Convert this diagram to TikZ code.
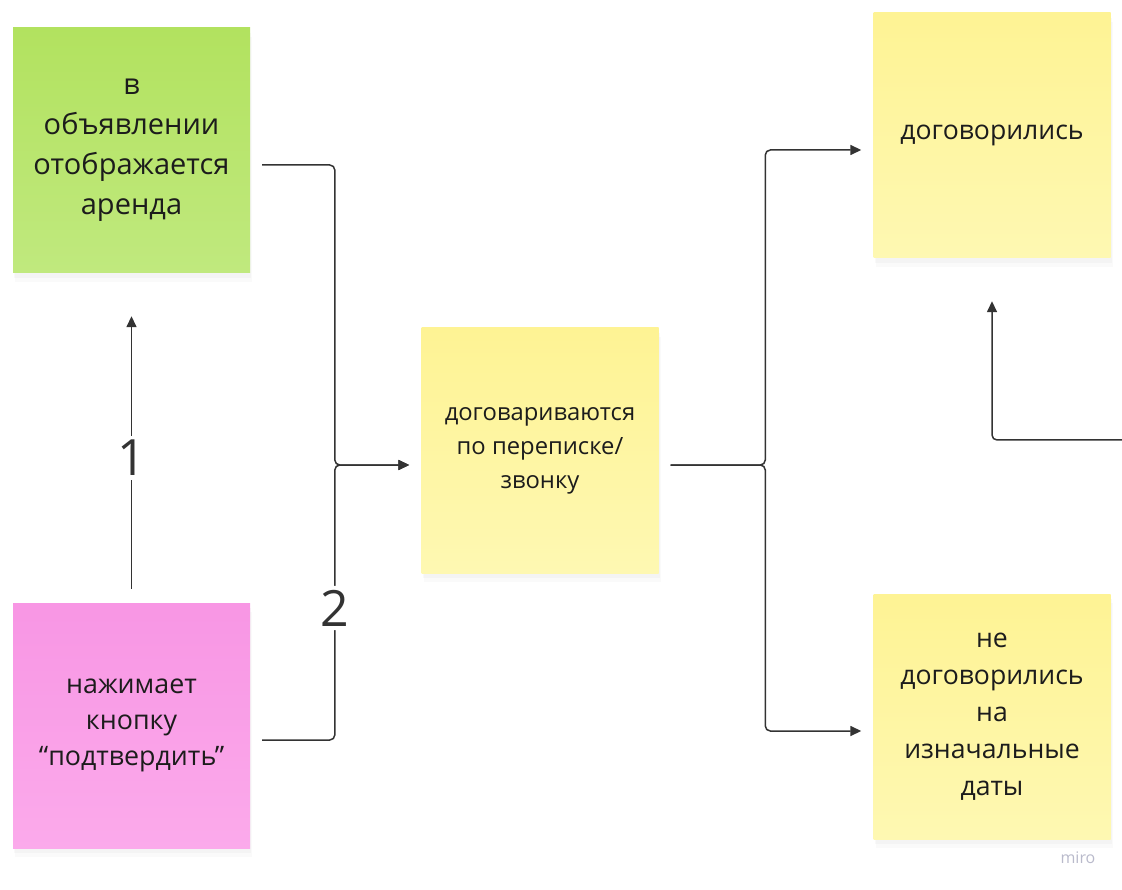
\documentclass[tikz,border=0pt]{standalone}
\usepackage{fontspec}
\setmainfont{Open Sans}
\usetikzlibrary{shadows,arrows.meta}

\definecolor{inkgray}{HTML}{333333}
\definecolor{notetext}{HTML}{1C1C1C}
\definecolor{greentop}{HTML}{B2E25F}
\definecolor{greenbot}{HTML}{C0E97E}
\definecolor{pinktop}{HTML}{F896E4}
\definecolor{pinkbot}{HTML}{FBAAEB}
\definecolor{yellowtop}{HTML}{FEF394}
\definecolor{yellowbot}{HTML}{FEF8B2}
\definecolor{logogray}{HTML}{B9BACB}

\begin{document}
\begin{tikzpicture}[x=1pt,y=-1pt,
    note/.style={minimum width=237pt,minimum height=245pt,align=center,inner sep=0pt,
      text=notetext,
      drop shadow={opacity=0.04,shadow xshift=2pt,shadow yshift=-9pt},
      drop shadow={opacity=0.05,shadow xshift=1pt,shadow yshift=-5pt}},
    greennote/.style={note,top color=greentop,bottom color=greenbot},
    pinknote/.style={note,top color=pinktop,bottom color=pinkbot},
    yellownote/.style={note,top color=yellowtop,bottom color=yellowbot},
    link/.style={draw=inkgray,line width=1.5pt,rounded corners=5pt},
    arr/.style={link,-{Triangle[length=11pt,width=10pt]}},
    num/.style={fill=white,text=inkgray,inner sep=4pt,font=\fontsize{50}{50}\selectfont}]
  \useasboundingbox (0,0) rectangle (1122,890);

  % sticky notes
  \node[greennote,font=\fontsize{29}{40}\selectfont] (ad) at (131.5,150.5)
    {в\\объявлении\\отображается\\аренда};
  \node[pinknote,font=\fontsize{26.8}{36}\selectfont] (press) at (131.5,725.5)
    {нажимает\\кнопку\\“подтвердить”};
  \node[yellownote,font=\fontsize{23.8}{34}\selectfont] (talk) at (540,450.5)
    {договариваются\\по переписке/\\звонку};
  \node[yellownote,font=\fontsize{26.6}{37}\selectfont] (deal) at (992,135.5)
    {договорились};
  \node[yellownote,font=\fontsize{26.6}{37}\selectfont] (nodeal) at (992,716.5)
    {не\\договорились\\на\\изначальные\\даты};

  % connector ends
  \coordinate (adout) at ([xshift=12pt,yshift=-14.5pt]ad.east);
  \coordinate (pressout) at ([xshift=12pt,yshift=-14.5pt]press.east);
  \coordinate (talkin) at ([xshift=-12pt,yshift=-14.5pt]talk.west);
  \coordinate (talkout) at ([xshift=12pt,yshift=-14.5pt]talk.east);
  \coordinate (dealin) at ([xshift=-12pt,yshift=-14.5pt]deal.west);
  \coordinate (nodealin) at ([xshift=-12pt,yshift=-14.5pt]nodeal.west);
  \coordinate (back) at (1124,440);

  % connectors
  \draw[arr] ([yshift=14pt]press.north) -- ([yshift=-43pt]ad.south)
    node[num,pos=0.48] (one) {1};
  \draw[arr] (adout) -| ([xshift=-74.5pt]talkin) -- (talkin);
  \draw[arr] (pressout) -| ([xshift=-74.5pt]talkin)
    node[num,pos=0.74] (two) {2} -- (talkin);
  \draw[arr] (talkout) -| ([xshift=-96pt]dealin) -- (dealin);
  \draw[arr] (talkout) -| ([xshift=-96pt]nodealin) -- (nodealin);
  \draw[arr] (back) -| ([yshift=-43pt]deal.south);

  \node[text=logogray,font=\fontsize{16}{16}\selectfont] (logo) at (1078,858) {miro};
\end{tikzpicture}
\end{document}
